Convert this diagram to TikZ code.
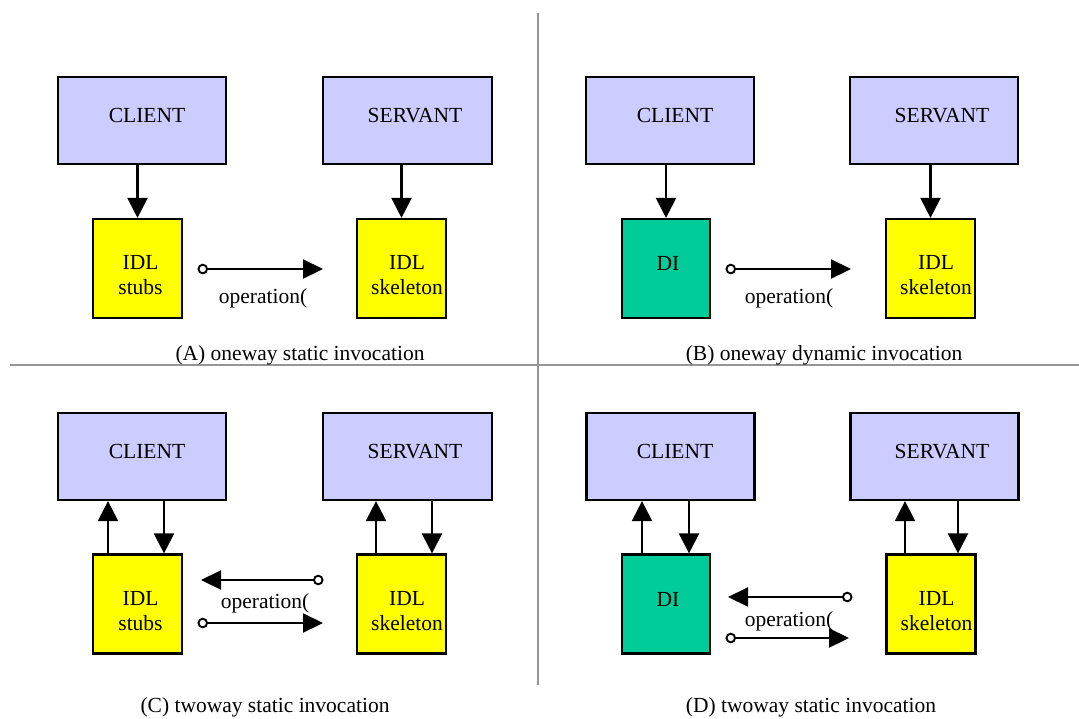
\documentclass[tikz,border=0pt]{standalone}
\usepackage{fontspec}
\setmainfont{Liberation Serif}
\usetikzlibrary{arrows.meta}
\definecolor{lav}{RGB}{204,204,255}
\definecolor{idlyellow}{RGB}{255,255,0}
\definecolor{digreen}{RGB}{0,204,153}
\definecolor{divgray}{RGB}{150,150,150}
\tikzset{
  box/.style={draw=black, line width=2.2pt, rectangle, inner sep=0pt},
  bigbox/.style={box, fill=lav, minimum width=168pt, minimum height=87pt},
  idlbox/.style={box, fill=idlyellow, minimum width=89pt, minimum height=99pt},
  dibox/.style={box, fill=digreen, minimum width=88pt, minimum height=99pt},
  lbl/.style={font=\fontsize{21.5}{24.5}\selectfont, inner sep=0pt, align=center},
  arr/.style={line width=2.2pt, -{Triangle[length=20pt,width=20pt]}},
  oparr/.style={line width=2.2pt,
    {Circle[open,length=10.5pt,width=10.5pt,line width=1.9pt]}-{Triangle[length=20pt,width=19pt]}},
  divider/.style={draw=divgray, line width=1.1pt}
}
\begin{document}
\begin{tikzpicture}[x=1pt,y=-1pt]
\useasboundingbox (0,0) rectangle (1079,718);

% panel dividers
\draw[divider] (538,13) -- (538,685);
\draw[divider] (10,365) -- (1079,365);

% ---------- (A) oneway static invocation ----------
\node[bigbox] (cA) at (142,120.5) {};
\node[bigbox, minimum width=169pt] (vA) at (407.5,120.5) {};
\node[idlbox] (sA) at (137.5,268.5) {};
\node[idlbox] (kA) at (401.5,268.5) {};
\node[lbl] (tcA) at (147,115.5) {CLIENT};
\node[lbl] (tvA) at (415,115.5) {SERVANT};
\node[lbl] (tsA) at (140.5,275) {IDL\\stubs};
\node[lbl] (tkA) at (407,275) {IDL\\skeleton};
\draw[arr] (sA.north |- cA.south) -- (sA.north);
\draw[arr] (kA.north |- vA.south) -- (kA.north);
\coordinate (oA1) at (197.5,269);
\coordinate (oA2) at (323,269);
\draw[oparr] (oA1) -- (oA2);
\node[lbl] (opA) at (263,298) {operation(};
\node[lbl] (capA) at (300,355) {(A) oneway static invocation};

% ---------- (B) oneway dynamic invocation ----------
\node[bigbox] (cB) at (670,120.5) {};
\node[bigbox] (vB) at (934,120.5) {};
\node[dibox] (dB) at (666,268.5) {};
\node[idlbox] (kB) at (930.5,268.5) {};
\node[lbl] (tcB) at (675,115.5) {CLIENT};
\node[lbl] (tvB) at (942,115.5) {SERVANT};
\node[lbl] (tdB) at (668,263.5) {DI};
\node[lbl] (tkB) at (936,275) {IDL\\skeleton};
\draw[arr] (dB.north |- cB.south) -- (dB.north);
\draw[arr] (kB.north |- vB.south) -- (kB.north);
\coordinate (oB1) at (725.5,269);
\coordinate (oB2) at (851,269);
\draw[oparr] (oB1) -- (oB2);
\node[lbl] (opB) at (789,298) {operation(};
\node[lbl] (capB) at (824,355) {(B) oneway dynamic invocation};

% ---------- (C) twoway static invocation ----------
\node[bigbox] (cC) at (142,456.5) {};
\node[bigbox, minimum width=169pt] (vC) at (407.5,456.5) {};
\node[idlbox] (sC) at (137.5,604) {};
\node[idlbox] (kC) at (401.5,604) {};
\node[lbl] (tcC) at (147,451.5) {CLIENT};
\node[lbl] (tvC) at (415,451.5) {SERVANT};
\node[lbl] (tsC) at (140.5,611) {IDL\\stubs};
\node[lbl] (tkC) at (407,611) {IDL\\skeleton};
\draw[arr] ([xshift=-29.5pt]sC.north) -- ([xshift=-29.5pt]sC.north |- cC.south);
\draw[arr] ([xshift=26.5pt]sC.north |- cC.south) -- ([xshift=26.5pt]sC.north);
\draw[arr] ([xshift=-25.5pt]kC.north) -- ([xshift=-25.5pt]kC.north |- vC.south);
\draw[arr] ([xshift=30.5pt]kC.north |- vC.south) -- ([xshift=30.5pt]kC.north);
\coordinate (oC1) at (323.5,580);
\coordinate (oC2) at (201,580);
\draw[oparr] (oC1) -- (oC2);
\coordinate (oC3) at (197.5,623);
\coordinate (oC4) at (323,623);
\draw[oparr] (oC3) -- (oC4);
\node[lbl] (opC) at (265,603) {operation(};
\node[lbl] (capC) at (265,707) {(C) twoway static invocation};

% ---------- (D) twoway static invocation ----------
\node[bigbox] (cD) at (670.5,456.5) {};
\node[bigbox] (vD) at (934.5,456.5) {};
\node[dibox] (dD) at (666,604) {};
\node[idlbox] (kD) at (931,604) {};
\node[lbl] (tcD) at (675,451.5) {CLIENT};
\node[lbl] (tvD) at (942,451.5) {SERVANT};
\node[lbl] (tdD) at (668,599) {DI};
\node[lbl] (tkD) at (936.5,611) {IDL\\skeleton};
\draw[arr] ([xshift=-24pt]dD.north) -- ([xshift=-24pt]dD.north |- cD.south);
\draw[arr] ([xshift=23pt]dD.north |- cD.south) -- ([xshift=23pt]dD.north);
\draw[arr] ([xshift=-26pt]kD.north) -- ([xshift=-26pt]kD.north |- vD.south);
\draw[arr] ([xshift=27pt]kD.north |- vD.south) -- ([xshift=27pt]kD.north);
\coordinate (oD1) at (852.5,597);
\coordinate (oD2) at (728,597);
\draw[oparr] (oD1) -- (oD2);
\coordinate (oD3) at (725.5,638);
\coordinate (oD4) at (849,638);
\draw[oparr] (oD3) -- (oD4);
\node[lbl] (opD) at (789,621) {operation(};
\node[lbl] (capD) at (811,707) {(D) twoway static invocation};
\end{tikzpicture}
\end{document}
